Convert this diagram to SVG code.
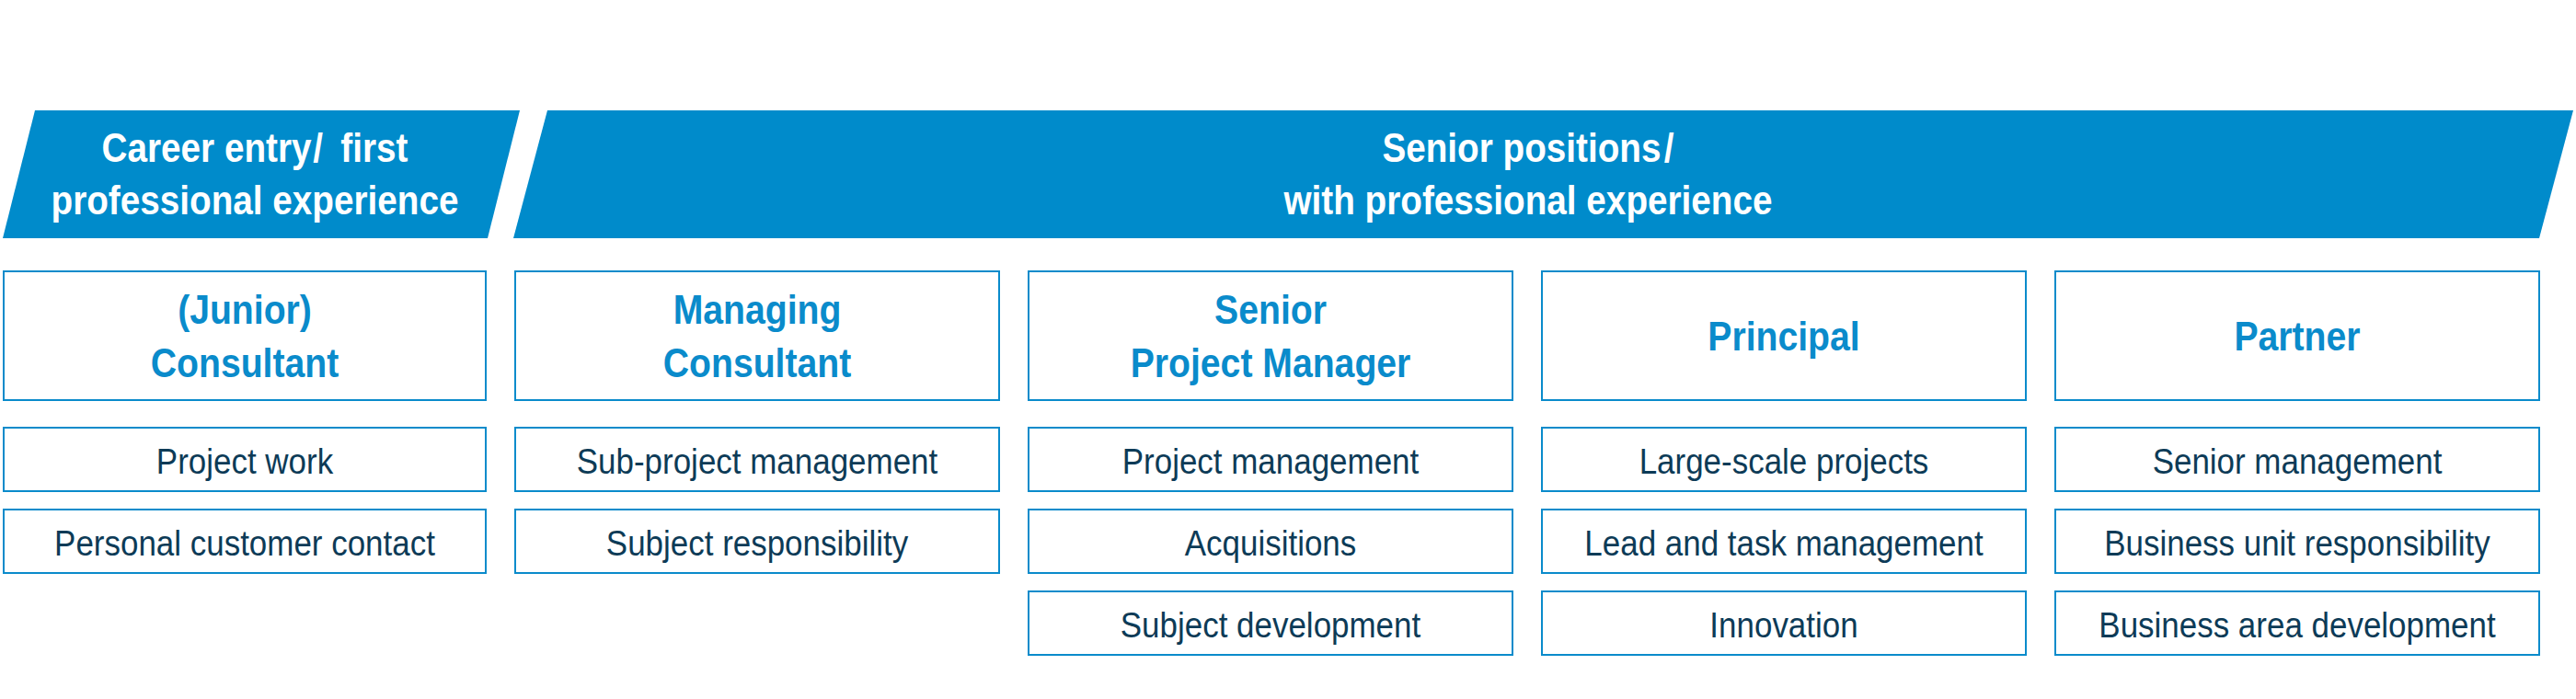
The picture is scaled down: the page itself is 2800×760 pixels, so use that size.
<svg xmlns="http://www.w3.org/2000/svg" width="2800" height="760" viewBox="0 0 2800 760">
  <style>
    .banner { fill: #008BCB; }
    .box { fill: #FFFFFF; stroke: #0A8BCB; stroke-width: 2; }
    .bt { font-family: "Liberation Sans", Arial, sans-serif; font-size: 45px; font-weight: bold; fill: #FFFFFF; text-anchor: middle; }
    .tt { font-family: "Liberation Sans", Arial, sans-serif; font-size: 44px; font-weight: bold; fill: #0A8BCB; text-anchor: middle; }
    .it { font-family: "Liberation Sans", Arial, sans-serif; font-size: 38px; fill: #0D3B57; text-anchor: middle; }
  </style>
  <rect width="2800" height="760" fill="#FFFFFF"/>

  <g id="banner-entry">
    <polygon class="banner" points="38,120 565,120 530,259 3,259"/>
    <text class="bt" transform="translate(277 176) scale(0.86 1)">Career entry<tspan dx="2">/</tspan><tspan dx="10"> first</tspan></text>
    <text class="bt" transform="translate(277 233) scale(0.86 1)">professional experience</text>
  </g>

  <g id="banner-senior">
    <polygon class="banner" points="595,120 2797,120 2760,259 558,259"/>
    <text class="bt" transform="translate(1661 176) scale(0.86 1)">Senior positions<tspan dx="4">/</tspan></text>
    <text class="bt" transform="translate(1661 233) scale(0.86 1)">with professional experience</text>
  </g>

  <g id="col-consultant">
    <g id="title-consultant">
      <rect class="box" x="4" y="295" width="524" height="140"/>
      <text class="tt" transform="translate(266 352) scale(0.89 1)">(Junior)</text>
      <text class="tt" transform="translate(266 410) scale(0.89 1)">Consultant</text>
    </g>
    <g id="consultant-1">
      <rect class="box" x="4" y="465" width="524" height="69"/>
      <text class="it" transform="translate(266 515) scale(0.92 1)">Project work</text>
    </g>
    <g id="consultant-2">
      <rect class="box" x="4" y="554" width="524" height="69"/>
      <text class="it" transform="translate(266 604) scale(0.92 1)">Personal customer contact</text>
    </g>
  </g>

  <g id="col-managing">
    <g id="title-managing">
      <rect class="box" x="560" y="295" width="526" height="140"/>
      <text class="tt" transform="translate(823 352) scale(0.89 1)">Managing</text>
      <text class="tt" transform="translate(823 410) scale(0.89 1)">Consultant</text>
    </g>
    <g id="managing-1">
      <rect class="box" x="560" y="465" width="526" height="69"/>
      <text class="it" transform="translate(823 515) scale(0.92 1)">Sub-project management</text>
    </g>
    <g id="managing-2">
      <rect class="box" x="560" y="554" width="526" height="69"/>
      <text class="it" transform="translate(823 604) scale(0.92 1)">Subject responsibility</text>
    </g>
  </g>

  <g id="col-spm">
    <g id="title-spm">
      <rect class="box" x="1118" y="295" width="526" height="140"/>
      <text class="tt" transform="translate(1381 352) scale(0.89 1)">Senior</text>
      <text class="tt" transform="translate(1381 410) scale(0.89 1)">Project Manager</text>
    </g>
    <g id="spm-1">
      <rect class="box" x="1118" y="465" width="526" height="69"/>
      <text class="it" transform="translate(1381 515) scale(0.92 1)">Project management</text>
    </g>
    <g id="spm-2">
      <rect class="box" x="1118" y="554" width="526" height="69"/>
      <text class="it" transform="translate(1381 604) scale(0.92 1)">Acquisitions</text>
    </g>
    <g id="spm-3">
      <rect class="box" x="1118" y="643" width="526" height="69"/>
      <text class="it" transform="translate(1381 693) scale(0.92 1)">Subject development</text>
    </g>
  </g>

  <g id="col-principal">
    <g id="title-principal">
      <rect class="box" x="1676" y="295" width="526" height="140"/>
      <text class="tt" transform="translate(1939 381) scale(0.89 1)">Principal</text>
    </g>
    <g id="principal-1">
      <rect class="box" x="1676" y="465" width="526" height="69"/>
      <text class="it" transform="translate(1939 515) scale(0.92 1)">Large-scale projects</text>
    </g>
    <g id="principal-2">
      <rect class="box" x="1676" y="554" width="526" height="69"/>
      <text class="it" transform="translate(1939 604) scale(0.92 1)">Lead and task management</text>
    </g>
    <g id="principal-3">
      <rect class="box" x="1676" y="643" width="526" height="69"/>
      <text class="it" transform="translate(1939 693) scale(0.92 1)">Innovation</text>
    </g>
  </g>

  <g id="col-partner">
    <g id="title-partner">
      <rect class="box" x="2234" y="295" width="526" height="140"/>
      <text class="tt" transform="translate(2497 381) scale(0.89 1)">Partner</text>
    </g>
    <g id="partner-1">
      <rect class="box" x="2234" y="465" width="526" height="69"/>
      <text class="it" transform="translate(2497 515) scale(0.92 1)">Senior management</text>
    </g>
    <g id="partner-2">
      <rect class="box" x="2234" y="554" width="526" height="69"/>
      <text class="it" transform="translate(2497 604) scale(0.92 1)">Business unit responsibility</text>
    </g>
    <g id="partner-3">
      <rect class="box" x="2234" y="643" width="526" height="69"/>
      <text class="it" transform="translate(2497 693) scale(0.92 1)">Business area development</text>
    </g>
  </g>

  <g id="connectors"></g>
</svg>
